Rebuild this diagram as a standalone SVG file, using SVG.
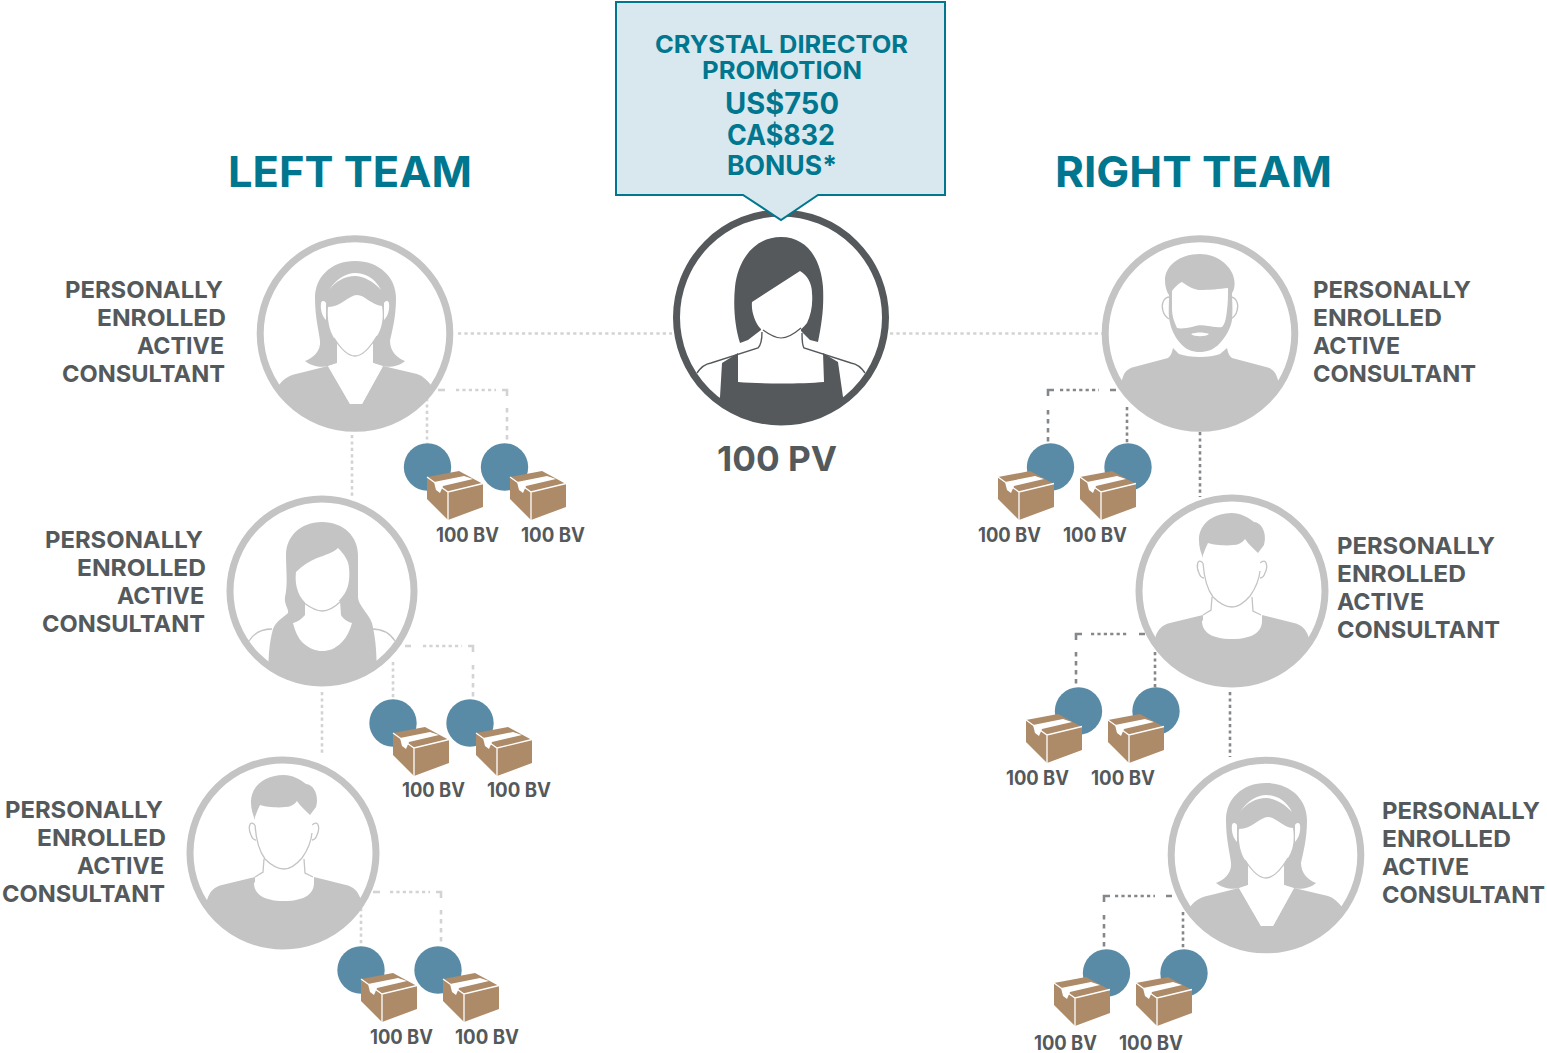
<svg xmlns="http://www.w3.org/2000/svg" xmlns:xlink="http://www.w3.org/1999/xlink" width="1547" height="1053" viewBox="0 0 1547 1053">
<style>
text{font-family:Inter,"Liberation Sans",sans-serif;font-weight:700;fill:#54595c}
.lab{font-size:23.5px}
.bv{font-size:19.5px}
.title{font-size:43px;fill:#00778f}
.call{fill:#00778f;font-size:24px}
.ring{fill:#fff;stroke:#c4c4c4;stroke-width:7}
.g{fill:#c4c4c4}
.w{fill:#fff}
.ol{fill:none;stroke:#c4c4c4;stroke-width:1.3}
.dot{fill:#5a8ba6}
.box{fill:#ad8a68}
.bl{fill:none;stroke:#fff;stroke-width:1.3}
.cl{fill:none;stroke:#d3d3d3;stroke-width:2.6;stroke-dasharray:3.2 3.2}
.cd{fill:none;stroke:#85888a;stroke-width:2.6;stroke-dasharray:3.2 3.2}
.cls{fill:none;stroke:#d3d3d3;stroke-width:2.6;stroke-dasharray:4.5 4.5}
.cds{fill:none;stroke:#85888a;stroke-width:2.6;stroke-dasharray:4.5 4.5}
.solid{stroke-dasharray:none}
</style>
<defs>
<clipPath id="c92"><circle cx="0" cy="0" r="93"/></clipPath>
<clipPath id="c101"><circle cx="0" cy="0" r="103"/></clipPath>
<g id="box">
<path class="box" d="M0,6L32,0L56,13V36L21,49L0,28Z"/>
<path class="w" d="M7,11L37,5L46,8L16,15L13,22L9,19Z"/>
<path class="bl" d="M0,6L21,21L56,12.5M21,21V49"/>
</g>
<g id="f1" clip-path="url(#c92)">
<path class="g" d="M-76,52C-70,44 -64,42 -55,40L-27,33L-5,71H7L28,33L62,41C68,43 72,47 76,52V100H-76Z"/>
<path class="g" d="M0,-72C-24,-72 -40,-56 -40,-35C-40,-15 -36,-2 -35,8C-34,18 -42,25 -50,28C-44,33 -34,35 -26,33L-17,30V-5H18V30L26,33C34,35 45,33 50,28C42,25 35,18 35,8C37,-2 41,-15 41,-35C41,-56 24,-72 0,-72Z"/>
<path class="w" d="M-18,10V30L-27,33L-5,71H7L28,33L18,30V10Z"/>
<path class="w" d="M-27,-26C-14,-26 -6,-38 2,-38C10,-38 16,-28 27,-27C29,-15 27,-5 22,3C16,13 8,23 0,23C-8,23 -16,13 -21,5C-26,-3 -28,-14 -27,-26Z"/>
<path class="ol" d="M-21,5C-16,13 -8,23 0,23C8,23 16,13 22,3"/>
<path class="w" d="M-26,-43C-18,-55 -8,-60 0,-60C10,-60 20,-55 26,-43C18,-52 8,-57 0,-57C-10,-57 -19,-52 -26,-43Z"/>
<path class="w" d="M-34,-30C-35,-22 -32,-16 -29,-13V-30C-30,-32 -33,-33 -34,-30ZM34,-30C35,-22 32,-16 29,-13V-30C30,-32 33,-33 34,-30Z"/>
</g>
<g id="f2" clip-path="url(#c92)">
<path class="ol" d="M-73,50C-68,42 -60,38 -50,38M73,50C68,42 60,38 50,38"/>
<path class="g" d="M0,-69C-22,-69 -36,-54 -36,-36C-36,-20 -34,-8 -37,6C-38,14 -33,18 -34,22C-38,26 -46,30 -49,38C-52,50 -54,60 -54,100H55C55,60 54,50 50,32C46,22 36,14 36,6C36,-8 36,-20 36,-36C36,-54 22,-69 0,-69Z"/>
<path class="w" d="M-17,10V24C-20,28 -25,31 -29,32C-27,40 -24,47 -19,52C-12,58 -6,60 0,60C7,60 13,58 20,51C25,46 28,39 30,32C26,31 21,28 19,24L18,10Z"/>
<path class="w" d="M-26,-19C-19,-26 -12,-30 -5,-33C3,-36 11,-38 16,-43C22,-37 27,-30 27,-23C28,-14 27,-5 23,2C16,12 8,20 0,20C-8,20 -17,13 -22,5C-26,-3 -27,-11 -26,-19Z"/>
<path class="ol" d="M-18,12C-11,17 -5,20 0,20C6,20 12,17 19,10"/>
</g>
<g id="m1" clip-path="url(#c92)">
<path class="g" d="M-77,47C-74,38 -70,34 -62,32L-29,24V31H30V24L62,32C70,34 74,38 77,47L82,100H-82Z"/>
<path class="w" d="M-21,8V22L-30,30C-30,40 -22,48 0,48C22,48 30,40 30,30L21,22V8Z"/>
<path class="ol" d="M-20,6L-21,19L-29,24M20,6L21,20L29,24M-29,-28C-35,-34 -36,-24 -33,-18C-32,-15 -30,-13 -28,-13M28,-28C35,-34 36,-24 33,-18C32,-15 30,-13 28,-13"/>
<path class="g" d="M0,-78C-22,-78 -34,-64 -33,-50C-33,-44 -31,-38 -29,-33L-24,-46L26,-38L32,-46C35,-56 31,-68 22,-69C16,-74 8,-78 0,-78Z"/>
<path class="w" d="M-29,-36C-27,-42 -25,-46 -24,-48C-18,-46 -6,-45 1,-46C6,-46 10,-48 13,-52C17,-46 22,-42 26,-38C28,-32 29,-26 28,-20C27,-10 23,-2 18,5C12,12 6,16 0,16C-6,16 -13,12 -19,6C-25,-2 -29,-18 -29,-36Z"/>
<path class="ol" d="M-29,-28C-28,-14 -25,-2 -19,6C-13,12 -6,16 0,16C6,16 12,12 18,5C23,-2 27,-10 28,-20"/>
</g>
<g id="m2" clip-path="url(#c92)">
<path class="g" d="M-78,47C-76,40 -74,36 -66,34L-32,25C-28,22 -28,18 -27,15L-21,21C-10,25 10,25 20,21L27,15C28,18 28,22 32,25L66,34C74,36 76,40 78,47L82,100H-82Z"/>
<path class="ol" d="M-30,-36C-37,-36 -39,-28 -37,-22C-36,-18 -34,-16 -31,-14M30,-36C37,-36 39,-28 37,-22C36,-18 34,-16 31,-14"/>
<path class="g" d="M0,-79C-22,-79 -35,-66 -35,-53C-35,-46 -33,-41 -31,-38C-31,-26 -32,-18 -30,-10C-28,0 -22,8 -18,12C-12,18 -6,19 0,19C6,19 14,17 20,10C26,4 31,-6 32,-13C33,-24 32,-34 32,-40C35,-44 35,-50 34,-54C33,-64 20,-79 0,-79Z"/>
<path class="w" d="M-28,-42C-25,-46 -21,-50 -18,-51C-10,-45 -4,-43 0,-43C8,-43 20,-44 28,-45C28,-36 28,-30 27,-23C26,-14 25,-9 22,-6C16,-5 12,-7 8,-7C3,-8 -3,-8 -8,-6C-13,-5 -19,-4 -23,-5C-26,-11 -28,-18 -28,-23Z"/>
<path class="w" d="M-9,1C-4,-1 4,-1 9,1C6,4 -6,4 -9,1Z"/>
</g>
<g id="c" clip-path="url(#c101)">
<path d="M-84,56C-80,50 -76,47 -70,46L-23,31C-20,28 -19,22 -19,15M84,56C80,50 76,47 70,46L23,31C21,28 21,22 21,16" fill="none" stroke="#55595b" stroke-width="1.4"/>
<path fill="#55595b" d="M0,-80C-26,-80 -43,-58 -46,-30C-48,-10 -46,10 -41,26L-33,23L-20,13V-10H20V14L29,23L37,25C41,5 43,-10 42,-30C40,-58 26,-80 0,-80Z"/>
<path class="w" d="M-29,-15L19,-46C26,-42 31,-34 31,-24C32,-12 30,-3 26,6C18,16 9,21 0,21C-8,21 -17,16 -21,11C-26,5 -30,-6 -29,-15Z"/>
<path fill="none" stroke="#55595b" stroke-width="1.2" d="M-18,13C-11,18 -5,21 0,21C6,21 13,17 20,11"/>
<path fill="#55595b" d="M-59,46L-43,36V65C-20,67 20,67 43,65L42,36L57,45L62,80L70,110H-70L-61,80Z"/>
</g>
</defs>

<g id="connectors">
<path class="cl" d="M458,333.5H672"/>
<path class="cl" d="M890,333.5H1102"/>
<path class="cl" d="M352,435V498"/>
<path class="cl" d="M322,692V756"/>
<path class="cl" d="M427,398V443M456,390H496"/>
<path class="cl solid" d="M438,390H445"/>
<path class="cl solid" d="M502,390H507V396"/>
<path class="cls" d="M507,408V443"/>
<path class="cl" d="M393,662V698M423,646H462"/>
<path class="cl solid" d="M405,646H411"/>
<path class="cl solid" d="M468,646H473V652"/>
<path class="cls" d="M473,665V698"/>
<path class="cl" d="M361,908V945M390,892H430"/>
<path class="cl solid" d="M373,892H380"/>
<path class="cl solid" d="M436,892H441V898"/>
<path class="cls" d="M441,910V945"/>
<path class="cd" d="M1200,432V497"/>
<path class="cd" d="M1230,692V757"/>
<path class="cd" d="M1127,407V443M1060,390H1099"/>
<path class="cd solid" d="M1110,390H1116M1048,396V390H1054"/>
<path class="cds" d="M1048,410V443"/>
<path class="cd" d="M1155,652V688M1091,634H1127"/>
<path class="cd solid" d="M1139,634H1145M1076,640V634H1082"/>
<path class="cds" d="M1076,652V688"/>
<path class="cd" d="M1183,912V948M1115,896H1155"/>
<path class="cd solid" d="M1166,896H1172M1104,902V896H1110"/>
<path class="cds" d="M1104,915V948"/>
</g>

<g id="title-left"><text class="title" x="228" y="187" textLength="244" lengthAdjust="spacingAndGlyphs">LEFT TEAM</text></g>
<g id="title-right"><text class="title" x="1055" y="187" textLength="277" lengthAdjust="spacingAndGlyphs">RIGHT TEAM</text></g>

<g id="node-center">
<circle cx="781" cy="317.5" r="104.5" fill="#fff" stroke="#55595b" stroke-width="7"/>
<use href="#c" x="781" y="317"/>
<text x="717" y="471" font-size="34.5" textLength="120" lengthAdjust="spacingAndGlyphs">100 PV</text>
</g>

<g id="callout">
<path d="M616,2H945V195H818L781,220L743,195H616Z" fill="#d8e8ee" stroke="#00778f" stroke-width="2"/>
<text class="call" x="655" y="53" textLength="253" lengthAdjust="spacingAndGlyphs">CRYSTAL DIRECTOR</text>
<text class="call" x="702" y="79" textLength="160" lengthAdjust="spacingAndGlyphs">PROMOTION</text>
<text class="call" x="725" y="114" style="font-size:30px" textLength="114" lengthAdjust="spacingAndGlyphs">US$750</text>
<text class="call" x="727" y="145" style="font-size:28px" textLength="108" lengthAdjust="spacingAndGlyphs">CA$832</text>
<text class="call" x="727" y="175" style="font-size:27px" textLength="110" lengthAdjust="spacingAndGlyphs">BONUS*</text>
</g>

<g id="node-left-1">
<circle class="ring" cx="355" cy="333.5" r="94.8"/><use href="#f1" x="355" y="333"/>
<g class="lab"><text x="65" y="297.5" textLength="158" lengthAdjust="spacingAndGlyphs">PERSONALLY</text><text x="97" y="325.5" textLength="129" lengthAdjust="spacingAndGlyphs">ENROLLED</text><text x="137" y="353.5" textLength="87" lengthAdjust="spacingAndGlyphs">ACTIVE</text><text x="62" y="381.5" textLength="163" lengthAdjust="spacingAndGlyphs">CONSULTANT</text></g>
</g>
<g id="node-left-2">
<circle class="ring" cx="322" cy="591" r="92"/><use href="#f2" x="322" y="591"/>
<g class="lab"><text x="45" y="548" textLength="158" lengthAdjust="spacingAndGlyphs">PERSONALLY</text><text x="77" y="576" textLength="129" lengthAdjust="spacingAndGlyphs">ENROLLED</text><text x="117" y="604" textLength="87" lengthAdjust="spacingAndGlyphs">ACTIVE</text><text x="42" y="632" textLength="163" lengthAdjust="spacingAndGlyphs">CONSULTANT</text></g>
</g>
<g id="node-left-3">
<circle class="ring" cx="283" cy="853" r="93"/><use href="#m1" x="284" y="853"/>
<g class="lab"><text x="5" y="818" textLength="158" lengthAdjust="spacingAndGlyphs">PERSONALLY</text><text x="37" y="846" textLength="129" lengthAdjust="spacingAndGlyphs">ENROLLED</text><text x="77" y="874" textLength="87" lengthAdjust="spacingAndGlyphs">ACTIVE</text><text x="2" y="902" textLength="163" lengthAdjust="spacingAndGlyphs">CONSULTANT</text></g>
</g>
<g id="node-right-1">
<circle class="ring" cx="1200" cy="333.5" r="94.8"/><use href="#m2" x="1200" y="333"/>
<g class="lab"><text x="1313" y="297.5" textLength="158" lengthAdjust="spacingAndGlyphs">PERSONALLY</text><text x="1313" y="325.5" textLength="129" lengthAdjust="spacingAndGlyphs">ENROLLED</text><text x="1313" y="353.5" textLength="87" lengthAdjust="spacingAndGlyphs">ACTIVE</text><text x="1313" y="381.5" textLength="163" lengthAdjust="spacingAndGlyphs">CONSULTANT</text></g>
</g>
<g id="node-right-2">
<circle class="ring" cx="1232" cy="591" r="93"/><use href="#m1" x="1232" y="591"/>
<g class="lab"><text x="1337" y="554" textLength="158" lengthAdjust="spacingAndGlyphs">PERSONALLY</text><text x="1337" y="582" textLength="129" lengthAdjust="spacingAndGlyphs">ENROLLED</text><text x="1337" y="610" textLength="87" lengthAdjust="spacingAndGlyphs">ACTIVE</text><text x="1337" y="638" textLength="163" lengthAdjust="spacingAndGlyphs">CONSULTANT</text></g>
</g>
<g id="node-right-3">
<circle class="ring" cx="1266" cy="855" r="94.8"/><use href="#f1" x="1266" y="855"/>
<g class="lab"><text x="1382" y="819" textLength="158" lengthAdjust="spacingAndGlyphs">PERSONALLY</text><text x="1382" y="847" textLength="129" lengthAdjust="spacingAndGlyphs">ENROLLED</text><text x="1382" y="875" textLength="87" lengthAdjust="spacingAndGlyphs">ACTIVE</text><text x="1382" y="903" textLength="163" lengthAdjust="spacingAndGlyphs">CONSULTANT</text></g>
</g>

<g id="bv-left-1">
<circle class="dot" cx="427.5" cy="467" r="23.7"/><circle class="dot" cx="504.5" cy="467" r="23.7"/>
<use href="#box" x="427" y="471"/><use href="#box" x="510" y="471"/>
<g class="bv"><text x="436" y="542" textLength="63" lengthAdjust="spacingAndGlyphs">100 BV</text><text x="521" y="542" textLength="64" lengthAdjust="spacingAndGlyphs">100 BV</text></g>
</g>
<g id="bv-left-2">
<circle class="dot" cx="393" cy="723" r="23.7"/><circle class="dot" cx="470" cy="723" r="23.7"/>
<use href="#box" x="393" y="727"/><use href="#box" x="476" y="727"/>
<g class="bv"><text x="402" y="797" textLength="63" lengthAdjust="spacingAndGlyphs">100 BV</text><text x="487" y="797" textLength="64" lengthAdjust="spacingAndGlyphs">100 BV</text></g>
</g>
<g id="bv-left-3">
<circle class="dot" cx="361" cy="970" r="23.7"/><circle class="dot" cx="438" cy="970" r="23.7"/>
<use href="#box" x="361" y="973"/><use href="#box" x="443" y="973"/>
<g class="bv"><text x="370" y="1044" textLength="63" lengthAdjust="spacingAndGlyphs">100 BV</text><text x="455" y="1044" textLength="64" lengthAdjust="spacingAndGlyphs">100 BV</text></g>
</g>
<g id="bv-right-1">
<circle class="dot" cx="1050.5" cy="467" r="23.7"/><circle class="dot" cx="1128" cy="467" r="23.7"/>
<use href="#box" x="998" y="471"/><use href="#box" x="1080" y="471"/>
<g class="bv"><text x="978" y="542" textLength="63" lengthAdjust="spacingAndGlyphs">100 BV</text><text x="1063" y="542" textLength="64" lengthAdjust="spacingAndGlyphs">100 BV</text></g>
</g>
<g id="bv-right-2">
<circle class="dot" cx="1078.5" cy="711" r="23.7"/><circle class="dot" cx="1156" cy="711" r="23.7"/>
<use href="#box" x="1026" y="714"/><use href="#box" x="1108" y="714"/>
<g class="bv"><text x="1006" y="785" textLength="63" lengthAdjust="spacingAndGlyphs">100 BV</text><text x="1091" y="785" textLength="64" lengthAdjust="spacingAndGlyphs">100 BV</text></g>
</g>
<g id="bv-right-3">
<circle class="dot" cx="1106.5" cy="973" r="23.7"/><circle class="dot" cx="1184" cy="973" r="23.7"/>
<use href="#box" x="1054" y="977"/><use href="#box" x="1136" y="977"/>
<g class="bv"><text x="1034" y="1050" textLength="63" lengthAdjust="spacingAndGlyphs">100 BV</text><text x="1119" y="1050" textLength="64" lengthAdjust="spacingAndGlyphs">100 BV</text></g>
</g>
</svg>
